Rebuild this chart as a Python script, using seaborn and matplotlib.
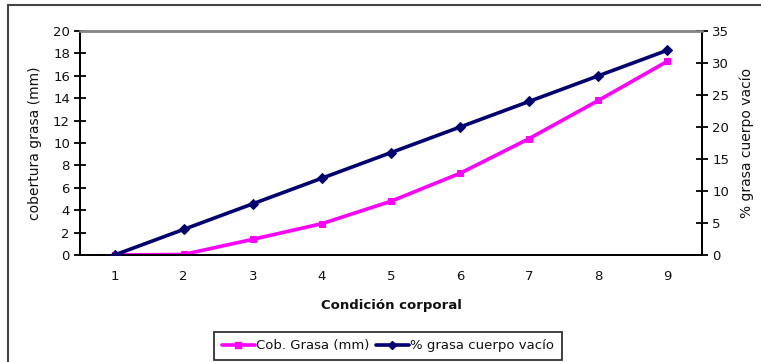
import matplotlib
matplotlib.use("Agg")
import matplotlib.pyplot as plt
import seaborn as sns
import pandas as pd
from matplotlib.lines import Line2D

sns.set_theme(style="white")
plt.rcParams['font.family'] = ['DejaVu Sans']

condicion = [1, 2, 3, 4, 5, 6, 7, 8, 9]
cob_grasa = [0.0, 0.05, 1.4, 2.8, 4.8, 7.3, 10.4, 13.8, 17.3]
pct_grasa = [0, 4, 8, 12, 16, 20, 24, 28, 32]
left_ticks = list(range(0, 21, 2))
right_ticks = list(range(0, 36, 5))

df = pd.DataFrame({"cond": condicion, "cob": cob_grasa, "pct": pct_grasa})

PINK = "#FF00FF"
NAVY = "#000070"
TXT = "#111111"

fig = plt.figure(figsize=(7.61, 3.62), dpi=100)
ax = fig.add_axes([80/761, 1-255/362, (702-80)/761, (255-31)/362])
ax2 = ax.twinx()

sns.lineplot(data=df, x="cond", y="cob", ax=ax, color=PINK, linewidth=2.6,
             marker="s", markersize=5, markeredgecolor=PINK, zorder=3)
sns.lineplot(data=df, x="cond", y="pct", ax=ax2, color=NAVY, linewidth=2.6,
             marker="D", markersize=5, markeredgecolor=NAVY, zorder=4)

ax.set_xlim(0.5, 9.5)
ax.set_ylim(0, 20)
ax2.set_ylim(0, 35)
ax.set_yticks(left_ticks)
ax2.set_yticks(right_ticks)
ax.set_xticks(condicion)
ax.set_xticklabels([str(c) for c in condicion])
ax.set_xticks([c + 0.5 for c in condicion], minor=True)

for a in (ax, ax2):
    for s in a.spines.values():
        s.set_linewidth(1.3)
        s.set_color("black")
    a.spines['top'].set_color("#888888")
    a.spines['top'].set_linewidth(1.8)

ax.tick_params(axis='x', which='major', length=0, pad=11, labelsize=9.5, labelcolor=TXT)
ax.tick_params(axis='x', which='minor', length=8, width=1.3, direction='inout', color="black")
ax.tick_params(axis='y', which='major', length=8, width=1.3, direction='inout', labelsize=9.5,
               labelcolor=TXT, color="black", left=True, pad=3.2)
ax2.tick_params(axis='y', which='major', length=8, width=1.3, direction='inout', labelsize=9.5,
                labelcolor=TXT, color="black", right=True, pad=3.5)

ax.set_xlabel("Condición corporal", fontsize=9.5, fontweight='bold', labelpad=11, color=TXT)
ax.set_ylabel("cobertura grasa (mm)", fontsize=10, labelpad=8, color=TXT)
ax2.set_ylabel("% grasa cuerpo vacío", fontsize=10, rotation=90, labelpad=7, color=TXT)
ax.grid(False)
ax2.grid(False)

handles = [
    Line2D([0], [0], color=PINK, linewidth=2.6, marker="s", markersize=4.5),
    Line2D([0], [0], color=NAVY, linewidth=2.6, marker="D", markersize=4.5),
]
leg = fig.legend(handles, ["Cob. Grasa (mm)", "% grasa cuerpo vacío"],
                 loc="center", bbox_to_anchor=(388/761, 1-346/362), ncol=2,
                 fontsize=9.5, frameon=True, fancybox=False, handlelength=2.5,
                 handletextpad=0.1, columnspacing=0.5, borderpad=0.55,
                 borderaxespad=0)
leg.get_frame().set_edgecolor("black")
leg.get_frame().set_linewidth(1.3)
for t in leg.get_texts():
    t.set_color(TXT)

# outer chart border (left and top visible)
fig.add_artist(Line2D([7.5/761, 7.5/761], [0, 1-5/362], color="#444444", linewidth=1.5,
                      transform=fig.transFigure))
fig.add_artist(Line2D([7.5/761, 1], [1-5/362, 1-5/362], color="#444444", linewidth=1.5,
                      transform=fig.transFigure))

fig.savefig("out.png", dpi=100)
